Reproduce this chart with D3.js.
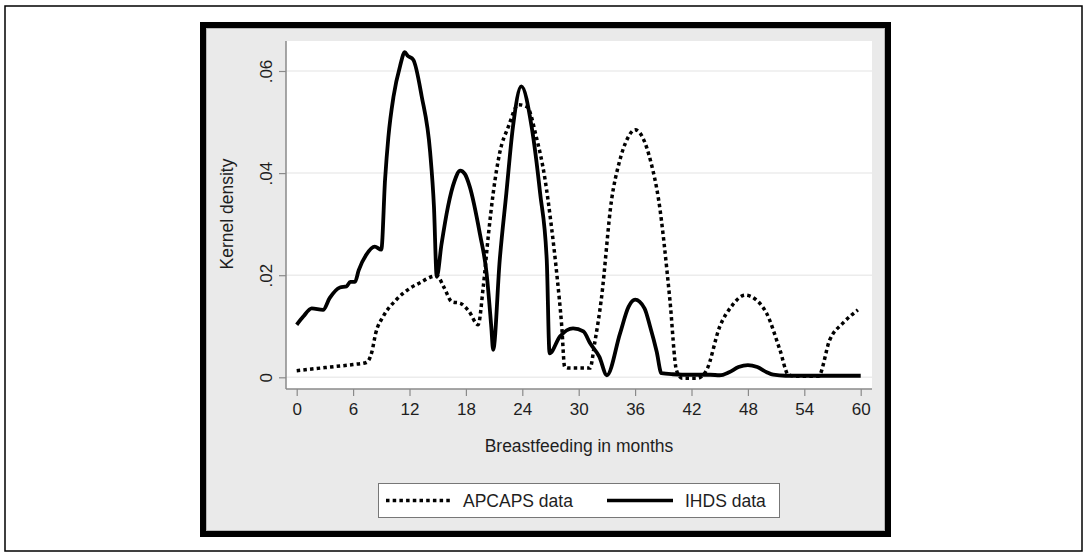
<!DOCTYPE html>
<html>
<head>
<meta charset="utf-8">
<script src="https://cdn.jsdelivr.net/npm/d3@7"></script>
<style>
  body { margin: 0; background: #fff; }
  text { font-family: "Liberation Sans", Arial, sans-serif; fill: #1e1e1e; }
</style>
</head>
<body>
<script>
// months and kernel density values
var ihdsMonths = [0, 0.7, 1.6, 2.8, 3.5, 4.6, 5.3, 5.7, 6.2, 6.6, 7.4, 8.3, 9.0, 9.4, 9.75, 10.3, 11.0, 11.5, 11.8, 12.4, 13.3, 14.2, 14.6, 14.9,
    15.4, 16.1, 16.8, 17.4, 17.9, 18.4, 19.5, 20.2, 20.7, 20.9, 21.6, 22.3, 23.0, 23.9, 25.0, 25.9, 26.6, 26.9, 28.0, 29.4, 30.5, 31.2,
    32.2, 33.0, 34.4, 35.3, 36.0, 37.0, 37.6, 38.3, 38.8, 40, 42, 44, 45, 46, 47, 48, 49, 50, 50.7, 52, 55, 58, 60];
var ihdsDensity = [.0103, .0119, .0135, .0132, .0155, .0176, .0178, .0187, .0187, .0210, .0240, .0256, .0250, .0387, .0470, .0550, .0610, .0637, .0630, .0622,
    .0550, .0440, .0335, .0197, .0260, .0335, .0385, .0405, .0398, .0374, .0280, .0204, .0099, .0054, .0230, .0360, .0490, .0570, .0490, .0360,
    .0230, .0047, .0080, .0096, .0090, .0067, .0040, .0004, .0086, .0138, .0152, .0135, .0099, .0050, .0008, .0006, .0005, .0005, .0004, .0010,
    .0020, .0024, .0020, .0010, .0005, .0003, .0003, .0003, .0003];

var apcapsMonths = [0, 2, 4, 6, 7.4, 8.0, 8.4, 9.2, 10.6, 12.1, 13.2, 14.2, 14.9, 15.7, 16.5, 17.4, 18.3, 19.3, 19.85, 20.4, 20.9, 21.6, 22.5,
    23.6, 24.5, 25.5, 26.4, 27.1, 27.7, 28.2, 28.5, 29.0, 30, 31.2, 31.7, 32.4, 33.5, 34.3, 35.2, 36.0, 36.8, 37.7, 38.5, 39.7, 40.4, 41, 42,
    42.6, 43.6, 45, 46.3, 47.7, 49, 50, 51.4, 52.3, 53, 54, 55.5, 56.7, 58.1, 59.7];
var apcapsDensity = [.0013, .0017, .0021, .0025, .0029, .0050, .0086, .0119, .0152, .0175, .0186, .0196, .0199, .0175, .0148, .0145, .0130, .0103,
    .0178, .0280, .0360, .0440, .0490, .0534, .0530, .0470, .0390, .0295, .0197, .0099, .0021, .0018, .0018, .0018, .0067, .0152, .0348, .0420,
    .0468, .0485, .0470, .0420, .0348, .0152, .0014, -.0002, -.0002, -.0002, .0014, .0099, .0140, .0161, .0150, .0125, .0054, .0005, .0002, .0002,
    .0002, .0073, .0106, .0132];

var xTicks = [0, 6, 12, 18, 24, 30, 36, 42, 48, 54, 60];
var yTicks = [0, .02, .04, .06];
var yTickLabels = ["0", ".02", ".04", ".06"];
var seriesNames = ["APCAPS data", "IHDS data"];

var W = 1084, H = 553;
var svg = d3.select("body").append("svg")
    .attr("width", W)
    .attr("height", H);

// outer thin border
svg.append("rect")
    .attr("x", 5).attr("y", 6)
    .attr("width", 1077).attr("height", 545)
    .attr("fill", "#fff")
    .attr("stroke", "#000")
    .attr("stroke-width", 1.5);

// thick frame round the graph, gray background
svg.append("rect")
    .attr("x", 203).attr("y", 25)
    .attr("width", 685).attr("height", 509)
    .attr("fill", "#eaeaea")
    .attr("stroke", "#000")
    .attr("stroke-width", 6);
svg.append("rect")
    .attr("x", 206.5).attr("y", 28.5)
    .attr("width", 678).attr("height", 502)
    .attr("fill", "none")
    .attr("stroke", "#b8b8b8")
    .attr("stroke-width", 1);

// plot region
var plot = {left: 286, top: 41, right: 872, bottom: 389};
svg.append("rect")
    .attr("x", plot.left).attr("y", plot.top)
    .attr("width", plot.right - plot.left)
    .attr("height", plot.bottom - plot.top)
    .attr("fill", "#fff");

var x = d3.scaleLinear().domain([0, 60]).range([296.7, 860.7]);
var y = d3.scaleLinear().domain([0, 0.06]).range([377.3, 71]);

// grid lines
svg.append("g").selectAll("line")
    .data(yTicks)
    .enter().append("line")
    .attr("x1", plot.left).attr("x2", plot.right)
    .attr("y1", function(d) { return y(d); })
    .attr("y2", function(d) { return y(d); })
    .attr("stroke", "#ececec")
    .attr("stroke-width", 1.5);

// axes
var xAxis = svg.append("g")
    .attr("transform", "translate(0," + plot.bottom + ")")
    .call(d3.axisBottom(x).tickValues(xTicks).tickSize(7).tickPadding(7).tickSizeOuter(0));
var yAxis = svg.append("g")
    .attr("transform", "translate(" + plot.left + ",0)")
    .call(d3.axisLeft(y).tickValues(yTicks).tickSize(7).tickSizeOuter(0)
        .tickFormat(function(d, i) { return yTickLabels[i]; }));

[xAxis, yAxis].forEach(function(ax) {
    ax.select(".domain").remove();
    ax.selectAll("line").attr("stroke", "#8a8a8a").attr("stroke-width", 1.2);
    ax.selectAll("text").attr("font-size", 17).attr("fill", "#1e1e1e")
        .attr("font-family", "Liberation Sans, Arial, sans-serif");
});
// axis lines along the plot edges
svg.append("line")
    .attr("x1", plot.left).attr("x2", plot.right)
    .attr("y1", plot.bottom).attr("y2", plot.bottom)
    .attr("stroke", "#8a8a8a").attr("stroke-width", 1.5);
svg.append("line")
    .attr("x1", plot.left).attr("x2", plot.left)
    .attr("y1", plot.top).attr("y2", plot.bottom)
    .attr("stroke", "#8a8a8a").attr("stroke-width", 1.5);

// rotated y tick labels
yAxis.selectAll(".tick text")
    .attr("text-anchor", "middle")
    .attr("dy", 0)
    .attr("transform", "translate(-14,0) rotate(-90)")
    .attr("x", 0)
    .attr("y", 0);

// axis titles
svg.append("text")
    .attr("x", (plot.left + plot.right) / 2)
    .attr("y", 452)
    .attr("text-anchor", "middle")
    .attr("font-size", 17.5)
    .text("Breastfeeding in months");
svg.append("text")
    .attr("transform", "translate(233," + 214 + ") rotate(-90)")
    .attr("text-anchor", "middle")
    .attr("font-size", 17.5)
    .text("Kernel density");

// curves
var line = d3.line()
    .x(function(d) { return x(d[0]); })
    .y(function(d) { return y(d[1]); })
    .curve(d3.curveMonotoneX);

var apcaps = d3.zip(apcapsMonths, apcapsDensity);
var ihds = d3.zip(ihdsMonths, ihdsDensity);

svg.append("path")
    .datum(apcaps)
    .attr("d", line)
    .attr("fill", "none")
    .attr("stroke", "#000")
    .attr("stroke-width", 3.5)
    .attr("stroke-dasharray", "3.5,3.2");

svg.append("path")
    .datum(ihds)
    .attr("d", line)
    .attr("fill", "none")
    .attr("stroke", "#000")
    .attr("stroke-width", 3.8)
    .attr("stroke-linejoin", "round");

// legend
var legend = svg.append("g");
legend.append("rect")
    .attr("x", 378.5).attr("y", 483.5)
    .attr("width", 401).attr("height", 34)
    .attr("fill", "#fff")
    .attr("stroke", "#777")
    .attr("stroke-width", 1);

var legendItems = [
    {name: seriesNames[0], x0: 386, x1: 453, tx: 463, dash: "3.5,3.2"},
    {name: seriesNames[1], x0: 607, x1: 673, tx: 685, dash: null}
];
legendItems.forEach(function(d) {
    legend.append("line")
        .attr("x1", d.x0).attr("x2", d.x1)
        .attr("y1", 500.5).attr("y2", 500.5)
        .attr("stroke", "#000")
        .attr("stroke-width", 3.5)
        .attr("stroke-dasharray", d.dash);
    legend.append("text")
        .attr("x", d.tx).attr("y", 507)
        .attr("font-size", 17.5)
        .text(d.name);
});
</script>
</body>
</html>
